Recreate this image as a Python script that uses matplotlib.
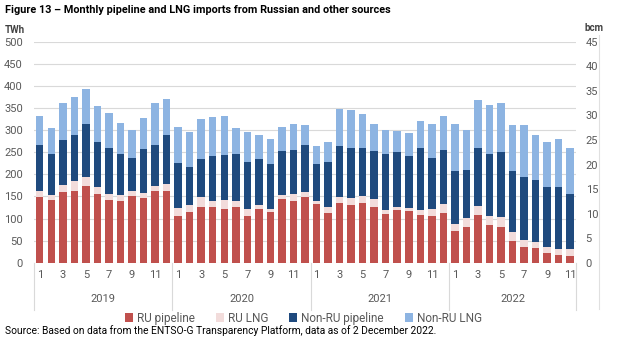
import numpy as np
import matplotlib
matplotlib.use('Agg')
import matplotlib.pyplot as plt
import matplotlib.transforms as mtransforms

# Monthly imports, TWh, Jan 2019 - Nov 2022 (cumulative stack tops)
years = ['2019', '2020', '2021', '2022']
months_per_year = [12, 12, 12, 11]

ru_pipe_top = [148, 141, 159, 162, 173, 156, 141, 139, 151, 147, 162, 162,
               106, 115, 127, 126, 122, 127, 106, 122, 114, 144, 140, 149,
               133, 113, 134, 130, 136, 127, 111, 120, 117, 109, 106, 113,
               71, 81, 107, 86, 81, 50, 36, 33, 21, 17, 15]
ru_lng_top = [162, 153, 176, 184, 194, 172, 155, 153, 162, 158, 173, 179,
              124, 130, 148, 140, 141, 140, 121, 131, 122, 153, 155, 161,
              140, 126, 149, 147, 152, 144, 120, 127, 123, 120, 122, 132,
              88, 101, 128, 106, 104, 69, 52, 47, 35, 32, 32]
nonru_pipe_top = [266, 247, 277, 289, 313, 273, 260, 245, 236, 258, 266, 288,
                  225, 217, 235, 241, 243, 246, 227, 234, 223, 253, 256, 266,
                  223, 227, 265, 259, 259, 253, 247, 250, 242, 259, 238, 256,
                  207, 210, 259, 246, 250, 207, 193, 187, 172, 172, 155]
nonru_lng_top = [331, 304, 361, 376, 392, 354, 338, 316, 300, 327, 361, 371,
                 308, 296, 326, 329, 331, 304, 296, 290, 279, 307, 313, 312,
                 265, 273, 348, 346, 336, 314, 300, 299, 293, 320, 314, 332,
                 315, 301, 368, 356, 362, 311, 311, 288, 273, 281, 259]

ru_pipe = np.array(ru_pipe_top)
ru_lng = np.array(ru_lng_top) - np.array(ru_pipe_top)
nonru_pipe = np.array(nonru_pipe_top) - np.array(ru_lng_top)
nonru_lng = np.array(nonru_lng_top) - np.array(nonru_pipe_top)

series = [('RU pipeline', ru_pipe, '#C0504D'),
          ('RU LNG', ru_lng, '#F2DCDB'),
          ('Non-RU pipeline', nonru_pipe, '#1F4A7E'),
          ('Non-RU LNG', nonru_lng, '#8DB4E2')]

plt.rcParams['font.family'] = ['Roboto', 'DejaVu Sans']
grey = '#595959'

fig = plt.figure(figsize=(6.2, 3.51), dpi=100)
ax = fig.add_axes([0.0548, 0.2516, 0.8742, 0.6294])

x = np.arange(len(ru_pipe))
bottom = np.zeros(len(x))
for name, vals, color in series:
    ax.bar(x, vals, 0.65, bottom=bottom, color=color, label=name, zorder=3)
    bottom += vals

ax.set_xlim(-0.5, len(x) - 0.5)
ax.set_ylim(0, 500)
ax.set_yticks(range(0, 501, 50))
ax.yaxis.grid(True, color='#D9D9D9', lw=0.8, zorder=0)
for s in ax.spines.values():
    s.set_visible(False)
ax.tick_params(axis='y', length=0, labelsize=8, labelcolor=grey, pad=8)

# month ticks (odd months only)
tick_pos, tick_lab = [], []
start = 0
for n in months_per_year:
    for m in range(1, n + 1, 2):
        tick_pos.append(start + m - 1)
        tick_lab.append(str(m))
    start += n
ax.set_xticks(tick_pos)
ax.set_xticklabels(tick_lab)
ax.tick_params(axis='x', length=0, labelsize=8, labelcolor=grey, pad=5)

# year labels and separators
trans = mtransforms.blended_transform_factory(ax.transData, ax.transAxes)
start = 0
for yr, n in zip(years, months_per_year):
    ax.text(start + (n - 1) / 2, -0.165, yr, transform=trans, ha='center',
            va='center', fontsize=8, color=grey)
    ax.plot([start - 0.5, start - 0.5], [0, -0.215], transform=trans,
            color='#D9D9D9', lw=0.8, clip_on=False)
    start += n
ax.plot([start - 0.5, start - 0.5], [0, -0.215], transform=trans,
        color='#D9D9D9', lw=0.8, clip_on=False)

ax2 = ax.twinx()
ax2.set_ylim(0, 45)
ax2.set_yticks(range(0, 46, 5))
for s in ax2.spines.values():
    s.set_visible(False)
ax2.tick_params(axis='y', length=0, labelsize=8, labelcolor=grey, pad=7)

fig.text(0.008, 0.972, 'Figure 13 \u2013 Monthly pipeline and LNG imports from Russian and other sources',
         fontsize=7.8, fontweight='bold', va='center', ha='left')
fig.text(0.008, 0.914, 'TWh', fontsize=7, fontweight='bold', color='#404040', va='center')
fig.text(0.942, 0.92, 'bcm', fontsize=7, fontweight='bold', color='#404040', va='center')
fig.text(0.008, 0.057, 'Source: Based on data from the ENTSO-G Transparency Platform, data as of 2 December 2022.',
         fontsize=7.4, va='center', ha='left')

fig.legend(loc='center', bbox_to_anchor=(0.489, 0.094), ncol=4, frameon=False,
           fontsize=8.5, handlelength=0.7, handleheight=0.7, handletextpad=0.3,
           columnspacing=1.8, labelcolor=grey)

fig.add_artist(plt.Line2D([0.966, 0.966], [0.12, 0.9], color='#E0E0E0', lw=0.8,
                          transform=fig.transFigure))

fig.savefig('out.png', dpi=100)
